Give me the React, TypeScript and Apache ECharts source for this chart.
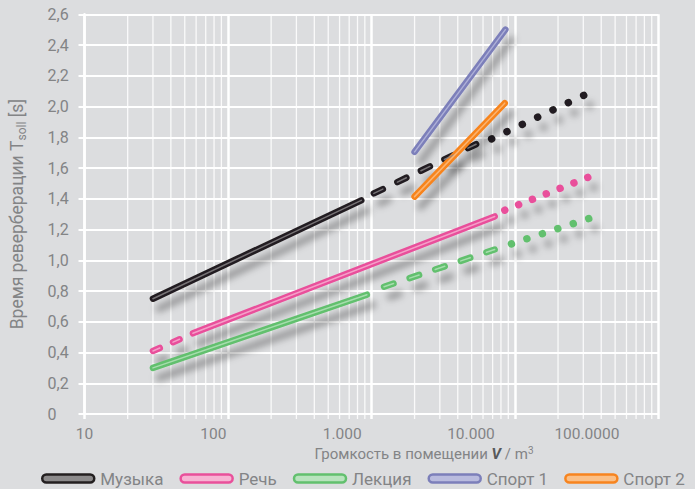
import React, { useEffect, useRef } from 'react';
import * as echarts from 'echarts';

// ---- data ----
const xTickLabels = ['10', '100', '1.000', '10.000', '100.0000'];
const yTickLabels = ['0', '0,2', '0,4', '0,6', '0,8', '1,0', '1,2', '1,4', '1,6', '1,8', '2,0', '2,2', '2,4', '2,6'];
const legendNames = ['Музыка', 'Речь', 'Лекция', 'Спорт 1', 'Спорт 2'];
const minorGridValues = [
  20, 30, 40, 50, 60, 70, 80, 90,
  200, 300, 400, 500, 600, 700, 800, 900,
  2000, 3000, 4000, 5000, 6000, 7000, 8000, 9000,
  20000, 30000, 40000, 50000, 60000, 70000, 80000, 90000,
];

const musicSolid = [[30, 0.75], [850, 1.39]];
const musicDashed = [[1040, 1.435], [5370, 1.755]];
const musicDotted = [[6890, 1.79], [30400, 2.074]];

const speechDashed = [[30, 0.41], [46, 0.486]];
const speechSolid = [[57, 0.525], [7240, 1.285]];
const speechDotted = [[8510, 1.326], [32500, 1.54]];

const lectureSolid = [[30, 0.3], [930, 0.776]];
const lectureDashed = [[1225, 0.828], [7230, 1.07]];
const lectureDotted = [[9470, 1.107], [32900, 1.272]];

const sport1 = [[2000, 1.705], [8590, 2.5]];
const sport2 = [[2000, 1.414], [8500, 2.022]];

// ---- styles ----
const FONT = "Roboto, 'Liberation Sans', sans-serif";
const TEXT = '#838486';
const BG = '#dcdddf';
const colors = ['#231f20', '#e9509b', '#62c06e', '#7c7fba', '#f7841f'];
const hlColors = ['#8c8a8b', '#f7b3d3', '#b8e3bd', '#b9bbde', '#fbbf86'];
const capsule = 'path://M4,0H48A4,4 0 0 1 48,8H4A4,4 0 0 1 4,0Z';

type Kind = 'solid' | 'dashed' | 'dotted';

function makeSeg(idx: number, data: number[][], kind: Kind, dash?: number[]) {
  const name = legendNames[idx];
  const width = kind === 'dotted' ? 7.5 : 6.5;
  const type: any = kind === 'solid' ? 'solid' : dash;
  const out: any[] = [
    {
      type: 'line',
      name,
      data,
      symbol: 'none',
      silent: true,
      z: 3,
      emphasis: { disabled: true },
      lineStyle: {
        color: colors[idx],
        width,
        type,
        cap: 'round',
        shadowColor: 'rgba(0,0,0,0.34)',
        shadowBlur: 7,
        shadowOffsetX: 6,
        shadowOffsetY: 10,
      },
    },
  ];
  if (kind !== 'dotted') {
    out.push({
      type: 'line',
      name,
      data,
      symbol: 'none',
      silent: true,
      z: 4,
      emphasis: { disabled: true },
      lineStyle: { color: hlColors[idx], width: 1.5, type, cap: 'round', opacity: 0.8 },
    });
  }
  return out;
}

export default function App() {
  const ref = useRef<HTMLDivElement>(null);
  useEffect(() => {
    if (!ref.current) return;
    const chart = echarts.init(ref.current, null, { renderer: 'svg' });
    const series: any[] = [
      {
        type: 'custom',
        name: 'minor-grid',
        silent: true,
        clip: false,
        z: 1,
        data: minorGridValues.map((v) => [v, 0]),
        encode: { x: 0, y: 1 },
        renderItem: (params: any, api: any) => {
          const v = api.value(0);
          const p0 = api.coord([v, 0]);
          const p1 = api.coord([v, 2.6]);
          return {
            type: 'line',
            shape: { x1: p0[0], y1: p1[1], x2: p0[0], y2: p0[1] + 5 },
            style: { stroke: 'rgba(255,255,255,0.85)', lineWidth: 1.3 },
          };
        },
      },
      ...makeSeg(0, musicSolid, 'solid'),
      ...makeSeg(0, musicDashed, 'dashed', [10, 16.1]),
      ...makeSeg(0, musicDotted, 'dotted', [0.01, 16.95]),
      ...makeSeg(1, speechDashed, 'dashed', [7.5, 14.4]),
      ...makeSeg(1, speechSolid, 'solid'),
      ...makeSeg(1, speechDotted, 'dotted', [0.01, 14.85]),
      ...makeSeg(2, lectureSolid, 'solid'),
      ...makeSeg(2, lectureDashed, 'dashed', [10, 17]),
      ...makeSeg(2, lectureDotted, 'dotted', [0.01, 16.25]),
      ...makeSeg(3, sport1, 'solid'),
      ...makeSeg(4, sport2, 'solid'),
    ];
    chart.setOption({
      animation: false,
      backgroundColor: BG,
      grid: { left: 77, right: 36.7, top: 14.3, bottom: 75, containLabel: false },
      xAxis: [
        {
          type: 'log',
          logBase: 10,
          min: 10,
          max: 100000,
          axisLabel: { show: false },
          axisLine: { show: false },
          axisTick: { show: true, length: 5, lineStyle: { color: '#ffffff', width: 2.5 } },
          splitLine: { show: true, lineStyle: { color: '#ffffff', width: 2.5 } },
        },
        {
          type: 'value',
          min: 0,
          max: 4.454,
          interval: 1,
          position: 'bottom',
          axisLine: { show: false },
          axisTick: { show: false },
          splitLine: { show: false },
          axisLabel: {
            customValues: [0, 1, 2, 3, 3.9],
            formatter: (v: number) => xTickLabels[Math.round(v)],
            margin: 12,
            fontSize: 15.5,
            fontFamily: FONT,
            color: TEXT,
          },
        },
      ],
      yAxis: {
        type: 'value',
        min: 0,
        max: 2.6,
        interval: 0.2,
        axisLine: { show: true, lineStyle: { color: '#ffffff', width: 2.5 } },
        axisTick: { show: true, length: 6, lineStyle: { color: '#ffffff', width: 2 } },
        splitLine: { show: true, lineStyle: { color: '#ffffff', width: 2 } },
        axisLabel: {
          margin: 37,
          align: 'left',
          fontSize: 16,
          fontFamily: FONT,
          color: TEXT,
          formatter: (v: number) => yTickLabels[Math.round(v / 0.2)],
        },
        name: '{a|Время реверберации T}{s|soll}{a| [s]}',
        nameLocation: 'middle',
        nameGap: 57,
        nameTextStyle: {
          rich: {
            a: { fontSize: 17.5, fontFamily: FONT, color: TEXT },
            s: { fontSize: 12, fontFamily: FONT, color: TEXT, padding: [9, 0, 0, 0] },
          },
        },
      },
      legend: {
        left: 41,
        top: 470,
        width: 680,
        padding: 0,
        itemWidth: 52,
        itemHeight: 8,
        itemGap: 16,
        icon: capsule,
        selectedMode: false,
        textStyle: { fontSize: 17, fontFamily: FONT, color: TEXT, padding: [0, 0, 0, 1] },
        data: legendNames.map((n, i) => ({
          name: n,
          itemStyle: { color: hlColors[i], borderColor: colors[i], borderWidth: 2.5 },
        })),
      },
      graphic: [
        {
          type: 'text',
          x: 424,
          y: 454,
          silent: true,
          style: {
            text: '{t|Громкость в помещении }{v|V}{t| / m}{p|3}',
            align: 'center',
            verticalAlign: 'middle',
            rich: {
              t: { fontSize: 15, fontFamily: FONT, fill: TEXT },
              v: { fontSize: 15, fontFamily: FONT, fill: '#58595b', fontWeight: 'bold', fontStyle: 'italic' },
              p: { fontSize: 10, fontFamily: FONT, fill: TEXT, padding: [0, 0, 8, 0] },
            },
          },
        },
      ],
      series,
    });
    return () => chart.dispose();
  }, []);
  return (
    <div
      ref={ref}
      style={{ position: 'fixed', left: 0, top: 0, width: 695, height: 489 }}
    />
  );
}
